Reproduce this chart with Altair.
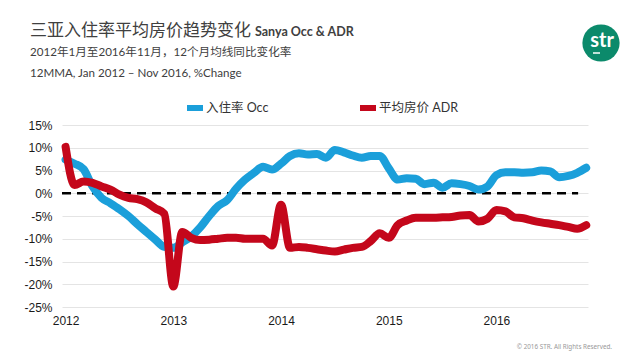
import altair as alt
import pandas as pd

# ---------------- data ----------------
months = [f"{y}-{m:02d}" for y in range(2012, 2017) for m in range(1, 13)][:59]

occ = [7.4, 6.5, 5.3, 1.5, -1.0, -2.2, -3.5, -5.0, -6.8, -8.5, -10.2, -11.8,
       -12.0, -10.8, -9.5, -7.5, -5.0, -2.8, -1.5, 1.0, 3.0, 4.5, 5.8, 5.2,
       6.5, 8.2, 8.8, 8.5, 8.6, 7.8, 9.5, 9.0, 8.3, 7.8, 8.2, 8.2,
       5.5, 3.0, 3.3, 3.2, 2.0, 2.3, 1.2, 2.2, 2.0, 1.6, 0.8, 1.5,
       4.0, 4.6, 4.6, 4.5, 4.6, 5.0, 4.8, 3.5, 3.8, 4.5, 5.6]

adr = [10.2, 1.8, 2.6, 2.3, 1.5, 0.8, -0.3, -1.0, -1.3, -2.0, -3.3, -4.5,
       -20.5, -8.5, -9.8, -10.3, -10.2, -10.0, -9.8, -9.8, -10.0, -10.0, -10.0, -11.5,
       -2.5, -12.0, -11.8, -12.0, -12.3, -12.6, -12.8, -12.4, -12.0, -11.8, -10.5, -8.8,
       -9.8, -7.0, -6.0, -5.4, -5.4, -5.4, -5.3, -5.2, -4.9, -4.8, -6.2, -5.6,
       -3.7, -4.0, -5.3, -5.5, -6.0, -6.4, -6.7, -7.0, -7.4, -7.8, -7.0]

series_names = ["入住率 Occ", "平均房价 ADR"]
series_colors = ["#1b9fda", "#c4071b"]
year_ticks = [0, 12, 24, 36, 48]
y_ticks = [-25, -20, -15, -10, -5, 0, 5, 10, 15]

title_cn = "三亚入住率平均房价趋势变化"
title_en = "Sanya Occ & ADR"
subtitle1 = "2012年1月至2016年11月，12个月均线同比变化率"
subtitle2 = "12MMA, Jan 2012 – Nov 2016, %Change"
copyright_text = "© 2016 STR. All Rights Reserved."
logo_text = "str"

n = len(months)
df = pd.DataFrame({
    "i": list(range(n)) * 2,
    "month": months * 2,
    "value": occ + adr,
    "series": [series_names[0]] * n + [series_names[1]] * n,
})

LATIN_CJK = "Lato, 'Noto Sans CJK SC'"

x_enc = alt.X("i:Q",
              scale=alt.Scale(domain=[-0.4, 58.2], nice=False, zero=False),
              axis=alt.Axis(values=year_ticks,
                            labelExpr="'' + (2012 + datum.value / 12)",
                            title=None, grid=False, domain=False, ticks=False,
                            labelOverlap=False,
                            labelPadding=8, labelFontSize=12,
                            labelFont="Liberation Sans", labelColor="#1a1a1a"))
y_enc = alt.Y("value:Q",
              scale=alt.Scale(domain=[-25, 15], nice=False),
              axis=alt.Axis(values=y_ticks, labelExpr="datum.value + '%'",
                            title=None, domain=False, ticks=False,
                            labelOverlap=False,
                            labelPadding=10, labelFontSize=12,
                            labelFont="Liberation Sans", labelColor="#1a1a1a",
                            gridColor="#e4e4e4", gridWidth=1))
color_enc = alt.Color("series:N",
                      scale=alt.Scale(domain=series_names, range=series_colors),
                      legend=alt.Legend(title=None, orient="none",
                                        legendX=122, legendY=-28,
                                        direction="horizontal",
                                        symbolType="stroke", symbolStrokeWidth=6,
                                        symbolSize=256, labelFontSize=12.5,
                                        labelFont=LATIN_CJK, labelColor="#333",
                                        labelOffset=0, columnPadding=79,
                                        padding=0))

base = alt.Chart(df).encode(x=x_enc, y=y_enc, color=color_enc)

line_style = dict(strokeWidth=8, strokeCap="round", strokeJoin="round",
                  interpolate="monotone")
occ_line = base.transform_filter(alt.datum.series == series_names[0]).mark_line(**line_style)
adr_line = base.transform_filter(alt.datum.series == series_names[1]).mark_line(**line_style)

zero_rule = alt.Chart(pd.DataFrame({"i": [-0.4], "i2": [57.1], "value": [0]})).mark_rule(
    strokeDash=[9, 6], strokeWidth=2.5, color="black"
).encode(x=x_enc, x2="i2:Q", y=y_enc)


def label(text, x, y, size, font, color="#404040", weight="normal", align="left",
          baseline="alphabetic"):
    return alt.Chart(pd.DataFrame({"t": [text]})).mark_text(
        fontSize=size, font=font, color=color, fontWeight=weight, align=align,
        baseline=baseline
    ).encode(text="t:N", x=alt.value(x), y=alt.value(y))


t1 = label(title_cn, -32, -89, 17, "Noto Sans CJK SC")
t2 = label(title_en, 193, -89, 12.5, "Lato", weight="bold")
s1 = label(subtitle1, -32, -69, 11.6, LATIN_CJK)
s2 = label(subtitle2, -32, -48, 11.6, "Lato")
cp = label(copyright_text, 550, 224, 6.3, "Noto Sans", color="#999999", align="right")

logo = alt.Chart(pd.DataFrame({"t": [logo_text]})).mark_point(
    filled=True, color="#0b8a6b", opacity=1, size=1385, shape="circle"
).encode(x=alt.value(539), y=alt.value(-82))
logo_txt = label(logo_text, 540, -84, 20, "Lato", color="white", weight="bold",
                 align="center", baseline="middle")
logo_bar = alt.Chart(pd.DataFrame({"t": [logo_text]})).mark_rule(
    color="white", strokeWidth=1.5
).encode(x=alt.value(531), x2=alt.value(538), y=alt.value(-72))

chart = alt.layer(
    zero_rule, occ_line, adr_line, t1, t2, s1, s2, cp, logo, logo_txt, logo_bar
).properties(
    width=526, height=182,
    padding={"left": 54, "top": 117, "right": 36, "bottom": 45},
    autosize=alt.AutoSizeParams(type="none"),
    background="white",
).configure_view(strokeWidth=0)

chart.save("out.html", embed_options={"renderer": "svg", "actions": False})
